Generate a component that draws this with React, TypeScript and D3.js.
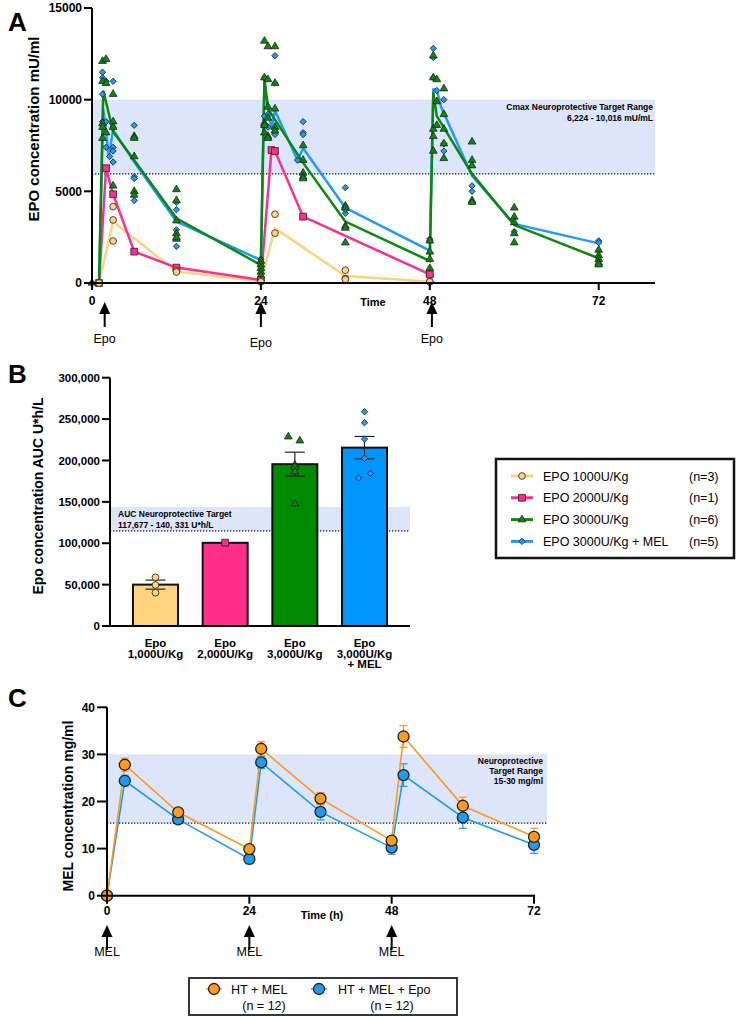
import React from 'react';
import * as d3 from 'd3';

const FONT = '"Liberation Sans", Arial, Helvetica, sans-serif';

// ---------- Panel A: EPO concentration over time ----------
const timeTicksA = [0, 24, 48, 72];
const epoTicksY = [0, 5000, 10000, 15000];
const epoDoseTimes = [1.8, 24, 48.3];
const cmaxRange = [5950, 10000];

const e1000LineT = [1, 3, 12, 24, 26, 36, 48];
const e1000Line = [0, 3350, 620, 100, 2980, 380, 70];
const e1000PtsT = [1, 3, 12, 24, 26, 36, 48];
const e1000Pts = [[0], [4170, 3440, 2290], [650, 600], [120, 60], [3750, 2720], [700, 240, 200], [80, 60]];

const e2000LineT = [1, 2, 3, 6, 12, 24, 25.5, 26, 30, 48];
const e2000Line = [0, 6260, 4840, 1710, 840, 160, 7250, 7200, 3620, 470];

const e3000LineT = [0, 1, 1.6, 3, 6, 12, 24, 24.5, 25, 30, 36, 48, 48.5, 49, 54, 60, 72];
const e3000Line = [0, 0, 10500, 8250, 6700, 3530, 980, 11100, 9500, 6550, 3350, 1200, 10400, 9100, 5950, 3160, 1350];
const e3000PtsT = [0, 1.5, 2, 3, 6, 12, 24, 24.5, 25, 26, 30, 36, 48, 48.5, 49, 50, 54, 60, 72];
const e3000Pts = [
  [0],
  [12100, 11000, 8700, 8500, 7900],
  [12200, 10900, 8200],
  [10300, 8800, 8500, 5300],
  [8000, 7900, 6900, 5000, 4800],
  [5100, 4500, 3400, 2700, 2400, 2500],
  [1200, 1000, 800, 600, 400],
  [13200, 11200, 8700, 8600, 8200],
  [12900, 11100, 9600, 9000, 8000, 7900],
  [12900, 10900, 9500, 8500, 8300],
  [7500, 6700, 6000, 5800, 5700],
  [4200, 4100, 3100, 3000, 2200],
  [2300, 1700, 1300, 800, 500],
  [12400, 11200, 8400, 8000, 7200],
  [11100, 9900, 8600],
  [10600, 9200, 8400, 7600, 6800],
  [7700, 6700, 6400, 4500, 4400],
  [4100, 3600, 3300, 2700, 2200],
  [1800, 1500, 1300, 1100, 1000],
];

const eMelLineT = [0, 1, 1.6, 2.4, 3, 6, 12, 24, 24.5, 25.5, 26, 29.2, 30, 36, 48, 48.5, 49, 49.6, 54, 60, 72];
const eMelLine = [0, 0, 9500, 6900, 8350, 6600, 3350, 1250, 11000, 8400, 9400, 6700, 7350, 4100, 1760, 10550, 10550, 9600, 5850, 3220, 2160];
const eMelPtsT = [1.5, 2, 2.5, 3, 6, 12, 24, 24.5, 25, 26, 29.2, 30, 36, 48, 48.5, 49, 50, 54, 60, 72];
const eMelPts = [
  [11500, 11200, 10300, 8800],
  [11000, 8800, 7400],
  [6900],
  [11000, 8500, 7400, 7200, 6600],
  [8600, 5800, 5700, 4500],
  [4400, 4000, 2900, 2000],
  [1300, 1100, 900],
  [11200, 9100, 8700],
  [9200, 8500],
  [12400, 10900, 8200, 8100],
  [6700],
  [8800, 8200, 8100],
  [5200, 3800, 4000],
  [2400, 2300],
  [12800, 12300, 11200],
  [10500],
  [10000, 7600, 7200],
  [5300, 5000],
  [2800],
  [2300, 2200],
];

// ---------- Panel B: AUC bars ----------
const aucGroups = ['g1000', 'g2000', 'g3000', 'g3000mel'];
const aucLabels = [['Epo', '1,000U/Kg'], ['Epo', '2,000U/Kg'], ['Epo', '3,000U/Kg'], ['Epo', '3,000U/Kg', '+ MEL']];
const aucMeans = [50000, 100500, 195500, 215500];
const aucSem = [5500, 0, 14500, 13500];
const aucPts = [
  [58800, 49500, 40200],
  [100700],
  [228700, 223900, 194500, 192000, 186400, 147800],
  [258900, 245600, 225900, 202600, 178800, 184500],
];
const aucTicks = [0, 50000, 100000, 150000, 200000, 250000, 300000];
const aucTarget = [115000, 143800];

const legendNames = ['EPO 1000U/Kg', 'EPO 2000U/Kg', 'EPO 3000U/Kg', 'EPO 3000U/Kg + MEL'];
const legendN = ['(n=3)', '(n=1)', '(n=6)', '(n=5)'];

// ---------- Panel C: MEL concentration ----------
const melTimes = [0, 3, 12, 24, 26, 36, 48, 50, 60, 72];
const melOnly = [0, 27.8, 17.7, 9.9, 31.2, 20.6, 11.7, 33.8, 19.1, 12.5];
const melOnlySem = [0, 1.4, 0.6, 0.5, 1.5, 1.3, 0.5, 2.3, 1.8, 1.8];
const melEpo = [0, 24.4, 16.2, 7.8, 28.3, 17.8, 10.2, 25.6, 16.6, 10.8];
const melEpoSem = [0, 1.2, 0.5, 1.0, 1.3, 1.7, 1.4, 2.4, 2.3, 1.8];
const melTicksY = [0, 10, 20, 30, 40];
const timeTicksC = [0, 24, 48, 72];
const melDoseTimes = [0, 24, 48];
const melRange = [15.4, 30];

// styles
const C_YEL = '#FFD27F';
const C_PINK = '#FF2E8C';
const C_GREEN = '#0A8A0A';
const C_BLUE = '#1F9BFF';
const C_BAND = '#DCE5F9';
const C_ORANGE = '#FF9A1F';
const C_CBLUE = '#1E9CEF';
const groupColors = [C_YEL, C_PINK, C_GREEN, C_BLUE];
const barColors = ['#FFD47F', '#FF2E8C', '#008A00', '#0095FF'];
const aucJitter = [[0, 0, 0], [0], [-6.5, 5, 0, 0, 0, 0], [0, 0, 0, 0, -6, 6]];

const symCircle = d3.symbol(d3.symbolCircle, 36)();
const symSquare = d3.symbol(d3.symbolSquare, 46)();
const symTriangle = d3.symbol(d3.symbolTriangle, 26)();
const symDiamond = d3.symbol(d3.symbolSquare, 20)();
const groupSymbols = [symCircle, symSquare, symTriangle, symDiamond];
const groupRotate = [0, 0, 0, 45];

function Marker({ x, y, g }: { x: number; y: number; g: number }) {
  return (
    <path
      d={groupSymbols[g]}
      transform={`translate(${x},${y}) rotate(${groupRotate[g]})`}
      fill={groupColors[g]}
      stroke="#222"
      strokeWidth={0.8}
    />
  );
}

function Arrow({ x, tip, label, textY }: { x: number; tip: number; label: string; textY: number }) {
  return (
    <g>
      <path d={`M${x},${tip} L${x - 5.5},${tip + 12} L${x + 5.5},${tip + 12} Z`} fill="#000" />
      <line x1={x} x2={x} y1={tip + 10} y2={tip + 25} stroke="#000" strokeWidth={2} />
      <text x={x} y={textY} textAnchor="middle" fontSize={12.5}>
        {label}
      </text>
    </g>
  );
}

export default function App() {
  // Panel A scales
  const xA = d3.scaleLinear().domain([0, 80]).range([92, 655]);
  const yA = d3.scaleLinear().domain([0, 15000]).range([283, 8]);
  const lineA = (ts: number[], vs: number[]) =>
    d3.line<number>().x((_, i) => xA(ts[i])).y((v) => yA(v))(vs) || '';

  // Panel B scales
  const xB = d3.scaleBand().domain(aucGroups).range([110, 410]).paddingInner(0.354).paddingOuter(0.33);
  const yB = d3.scaleLinear().domain([0, 300000]).range([626, 377.7]);

  // Panel C scales
  const xC = d3.scaleLinear().domain([0, 72]).range([107, 534]);
  const yC = d3.scaleLinear().domain([0, 40]).range([895.7, 707.3]);
  const lineC = (vs: number[]) =>
    d3.line<number>().x((_, i) => xC(melTimes[i])).y((v) => yC(v))(vs) || '';

  const fmtComma = d3.format(',');

  const melSeries = [
    { vals: melEpo, sem: melEpoSem, color: C_CBLUE },
    { vals: melOnly, sem: melOnlySem, color: C_ORANGE },
  ];

  return (
    <svg
      width={738}
      height={1020}
      style={{ position: 'absolute', left: 0, top: 0, background: '#fff' }}
      fontFamily={FONT}
    >
      {/* ================= Panel A ================= */}
      <text x={8} y={31} fontSize={26} fontWeight="bold">A</text>
      <rect x={xA(0)} y={yA(cmaxRange[1])} width={xA(80) - xA(0)} height={yA(cmaxRange[0]) - yA(cmaxRange[1])} fill={C_BAND} />
      <line x1={xA(0)} x2={xA(80)} y1={yA(cmaxRange[0])} y2={yA(cmaxRange[0])} stroke="#111" strokeWidth={1.2} strokeDasharray="1.3,1.7" />
      <text x={653} y={110} textAnchor="end" fontSize={8.5} fontWeight="bold">Cmax Neuroprotective Target Range</text>
      <text x={653} y={121} textAnchor="end" fontSize={8.5} fontWeight="bold">6,224 - 10,016 mU/mL</text>

      <path d={lineA(e1000LineT, e1000Line)} fill="none" stroke={C_YEL} strokeWidth={2.5} />
      <path d={lineA(e2000LineT, e2000Line)} fill="none" stroke={C_PINK} strokeWidth={2.5} />
      <path d={lineA(eMelLineT, eMelLine)} fill="none" stroke={C_BLUE} strokeWidth={2.5} />
      <path d={lineA(e3000LineT, e3000Line)} fill="none" stroke={C_GREEN} strokeWidth={2.5} />

      {eMelPtsT.map((t, i) => eMelPts[i].map((v, j) => <Marker key={`b${i}-${j}`} x={xA(t)} y={yA(v)} g={3} />))}
      {e3000PtsT.map((t, i) => e3000Pts[i].map((v, j) => <Marker key={`g${i}-${j}`} x={xA(t)} y={yA(v)} g={2} />))}
      {e2000LineT.map((t, i) => <Marker key={`p${i}`} x={xA(t)} y={yA(e2000Line[i])} g={1} />)}
      {e1000PtsT.map((t, i) => e1000Pts[i].map((v, j) => <Marker key={`y${i}-${j}`} x={xA(t)} y={yA(v)} g={0} />))}

      {/* axes A */}
      <line x1={xA(0)} x2={xA(0)} y1={yA(0) + 1} y2={yA(15000)} stroke="#000" strokeWidth={2} />
      {epoTicksY.map((t) => (
        <g key={t}>
          <line x1={xA(0) - 8} x2={xA(0)} y1={yA(t)} y2={yA(t)} stroke="#000" strokeWidth={2} />
          <text x={xA(0) - 10} y={yA(t)} dy="0.36em" textAnchor="end" fontSize={12} fontWeight="bold">{t}</text>
        </g>
      ))}
      <line x1={xA(0) - 1} x2={xA(80)} y1={yA(0)} y2={yA(0)} stroke="#000" strokeWidth={2} />
      {timeTicksA.map((t) => (
        <g key={t}>
          <line x1={xA(t)} x2={xA(t)} y1={yA(0)} y2={yA(0) + 7} stroke="#000" strokeWidth={2} />
          <text x={xA(t)} y={304.5} textAnchor="middle" fontSize={12} fontWeight="bold">{t}</text>
        </g>
      ))}
      <text x={373} y={305.5} textAnchor="middle" fontSize={11} fontWeight="bold">Time</text>
      <text transform="translate(39,129) rotate(-90)" textAnchor="middle" fontSize={15} fontWeight="bold">EPO concentration mU/ml</text>
      {epoDoseTimes.map((t, i) => (
        <Arrow key={t} x={xA(t)} tip={302} label="Epo" textY={i === 1 ? 346.5 : 343} />
      ))}

      {/* ================= Panel B ================= */}
      <text x={8} y={383} fontSize={26} fontWeight="bold">B</text>
      <rect x={110} y={yB(aucTarget[1])} width={300} height={yB(aucTarget[0]) - yB(aucTarget[1])} fill={C_BAND} />
      <line x1={110} x2={410} y1={yB(aucTarget[0])} y2={yB(aucTarget[0])} stroke="#111" strokeWidth={1.2} strokeDasharray="1.3,1.7" />
      <text x={118} y={517} fontSize={8.5} fontWeight="bold">AUC Neuroprotective Target</text>
      <text x={118} y={528} fontSize={8.5} fontWeight="bold">117,677 - 140, 331 U*h/L</text>

      {aucGroups.map((g, i) => {
        const x0 = xB(g) as number;
        const bw = xB.bandwidth();
        const cx = x0 + bw / 2;
        return (
          <g key={g}>
            <rect x={x0} y={yB(aucMeans[i])} width={bw} height={yB(0) - yB(aucMeans[i])} fill={barColors[i]} stroke="#111" strokeWidth={2} />
            {aucSem[i] > 0 && (
              <g stroke="#222" strokeWidth={1.2}>
                <line x1={cx} x2={cx} y1={yB(aucMeans[i] + aucSem[i])} y2={yB(aucMeans[i] - aucSem[i])} />
                <line x1={cx - 10} x2={cx + 10} y1={yB(aucMeans[i] + aucSem[i])} y2={yB(aucMeans[i] + aucSem[i])} />
                <line x1={cx - 10} x2={cx + 10} y1={yB(aucMeans[i] - aucSem[i])} y2={yB(aucMeans[i] - aucSem[i])} />
              </g>
            )}
            {aucPts[i].map((v, j) => (
              <Marker key={j} x={cx + aucJitter[i][j]} y={yB(v)} g={i} />
            ))}
            {aucLabels[i].map((s, k) => (
              <text key={k} x={cx} y={647 + k * 10.5} textAnchor="middle" fontSize={11.5} fontWeight="bold">{s}</text>
            ))}
          </g>
        );
      })}

      <line x1={110} x2={110} y1={yB(0) + 1} y2={yB(300000)} stroke="#000" strokeWidth={2} />
      {aucTicks.map((t) => (
        <g key={t}>
          <line x1={102} x2={110} y1={yB(t)} y2={yB(t)} stroke="#000" strokeWidth={2} />
          <text x={100} y={yB(t)} dy="0.36em" textAnchor="end" fontSize={11.5} fontWeight="bold">{fmtComma(t)}</text>
        </g>
      ))}
      <line x1={109} x2={410} y1={yB(0)} y2={yB(0)} stroke="#000" strokeWidth={2} />
      <text transform="translate(43,496) rotate(-90)" textAnchor="middle" fontSize={14} fontWeight="bold">Epo concentration AUC U*h/L</text>

      {/* legend B */}
      <rect x={496} y={459} width={238} height={99} fill="#fff" stroke="#111" strokeWidth={2.5} />
      {legendNames.map((name, i) => {
        const yy = 476 + i * 21.8;
        return (
          <g key={name}>
            <line x1={511} x2={533} y1={yy} y2={yy} stroke={groupColors[i]} strokeWidth={3} />
            <Marker x={522} y={yy} g={i} />
            <text x={543} y={yy} dy="0.36em" fontSize={12.5}>{name}</text>
            <text x={689} y={yy} dy="0.36em" fontSize={12.5}>{legendN[i]}</text>
          </g>
        );
      })}

      {/* ================= Panel C ================= */}
      <text x={8} y={707} fontSize={26} fontWeight="bold">C</text>
      <rect x={xC(0)} y={yC(melRange[1])} width={547 - xC(0)} height={yC(melRange[0]) - yC(melRange[1])} fill={C_BAND} />
      <line x1={xC(0)} x2={547} y1={yC(melRange[0])} y2={yC(melRange[0])} stroke="#111" strokeWidth={1.2} strokeDasharray="1.3,1.7" />
      <text x={543} y={764} textAnchor="end" fontSize={8.5} fontWeight="bold">Neuroprotective</text>
      <text x={543} y={774} textAnchor="end" fontSize={8.5} fontWeight="bold">Target Range</text>
      <text x={543} y={784} textAnchor="end" fontSize={8.5} fontWeight="bold">15-30 mg/ml</text>

      {melSeries.map((s, k) => (
        <g key={k}>
          <path d={lineC(s.vals)} fill="none" stroke={s.color} strokeWidth={1.6} />
          {s.vals.map((v, i) =>
            s.sem[i] > 0 ? (
              <g key={i} stroke={s.color} strokeWidth={1.2}>
                <line x1={xC(melTimes[i])} x2={xC(melTimes[i])} y1={yC(v + s.sem[i])} y2={yC(v - s.sem[i])} />
                <line x1={xC(melTimes[i]) - 4} x2={xC(melTimes[i]) + 4} y1={yC(v + s.sem[i])} y2={yC(v + s.sem[i])} />
                <line x1={xC(melTimes[i]) - 4} x2={xC(melTimes[i]) + 4} y1={yC(v - s.sem[i])} y2={yC(v - s.sem[i])} />
              </g>
            ) : null
          )}
        </g>
      ))}
      {melSeries.map((s, k) => (
        <g key={`m${k}`}>
          {s.vals.map((v, i) => (
            <circle key={i} cx={xC(melTimes[i])} cy={yC(v)} r={5.5} fill={s.color} stroke="#222" strokeWidth={1.3} />
          ))}
        </g>
      ))}

      <line x1={xC(0)} x2={xC(0)} y1={yC(0) + 1} y2={yC(40)} stroke="#000" strokeWidth={2} />
      {melTicksY.map((t) => (
        <g key={t}>
          <line x1={xC(0) - 10} x2={xC(0)} y1={yC(t)} y2={yC(t)} stroke="#000" strokeWidth={2} />
          <text x={xC(0) - 12} y={yC(t)} dy="0.36em" textAnchor="end" fontSize={12} fontWeight="bold">{t}</text>
        </g>
      ))}
      <line x1={xC(0) - 1} x2={xC(72) + 1} y1={yC(0)} y2={yC(0)} stroke="#000" strokeWidth={2} />
      {timeTicksC.map((t) => (
        <g key={t}>
          <line x1={xC(t)} x2={xC(t)} y1={yC(0)} y2={yC(0) + 8} stroke="#000" strokeWidth={2} />
          <text x={xC(t)} y={915} textAnchor="middle" fontSize={12} fontWeight="bold">{t}</text>
        </g>
      ))}
      <text x={322} y={919} textAnchor="middle" fontSize={11} fontWeight="bold">Time (h)</text>
      <text transform="translate(73,806) rotate(-90)" textAnchor="middle" fontSize={14} fontWeight="bold">MEL concentration mg/ml</text>
      {melDoseTimes.map((t) => (
        <Arrow key={t} x={xC(t)} tip={925} label="MEL" textY={956} />
      ))}

      {/* legend C */}
      <rect x={189} y={978} width={268} height={37} fill="#fff" stroke="#222" strokeWidth={1.8} />
      <line x1={206} x2={222} y1={989} y2={989} stroke={C_ORANGE} strokeWidth={1.6} />
      <circle cx={214} cy={989} r={5.5} fill={C_ORANGE} stroke="#222" strokeWidth={1.3} />
      <text x={231} y={989} dy="0.36em" fontSize={12.5}>HT + MEL</text>
      <text x={264} y={1005} dy="0.36em" textAnchor="middle" fontSize={12.5}>(n = 12)</text>
      <line x1={311} x2={327} y1={989} y2={989} stroke={C_CBLUE} strokeWidth={1.6} />
      <circle cx={319} cy={989} r={5.5} fill={C_CBLUE} stroke="#222" strokeWidth={1.3} />
      <text x={338} y={989} dy="0.36em" fontSize={12.5}>HT + MEL + Epo</text>
      <text x={392} y={1005} dy="0.36em" textAnchor="middle" fontSize={12.5}>(n = 12)</text>
    </svg>
  );
}
